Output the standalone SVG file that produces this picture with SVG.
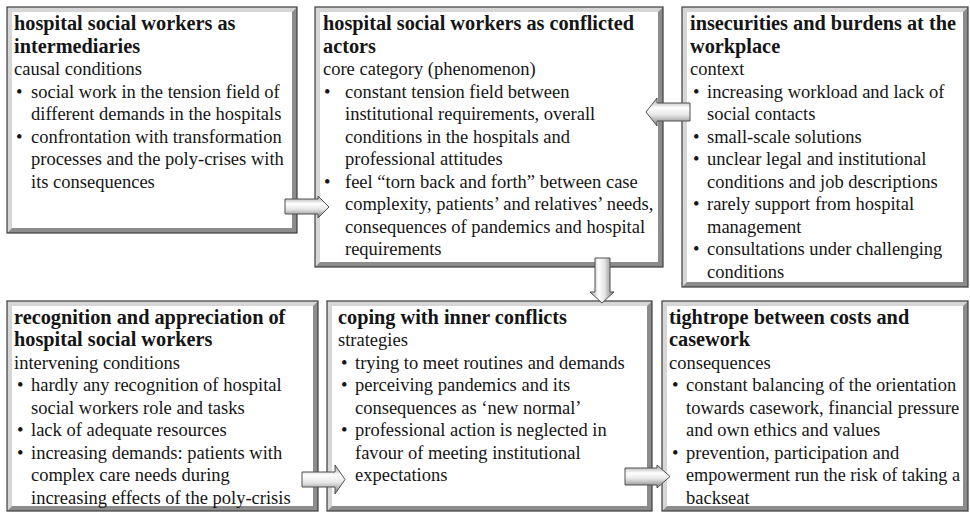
<svg xmlns="http://www.w3.org/2000/svg" width="970" height="513" viewBox="0 0 970 513">
<defs>
<style>
.bg{fill:#ffffff}
.hi{fill:#d6d6d6}
.sh{fill:#8c8c8c}
.ol{fill:none;stroke:#3c3c3c;stroke-width:1.2}
text{font-family:"Liberation Serif","Times New Roman",serif;fill:#151515;font-size:18.5px}
.t{font-weight:bold;font-size:20.3px}
.arr{stroke:#505050;stroke-width:1;stroke-linejoin:miter}
.ah{fill:url(#gh)}
.av{fill:url(#gv)}
</style>
<linearGradient id="gh" x1="0" y1="0" x2="0" y2="1">
<stop offset="0" stop-color="#9a9a9a"/>
<stop offset="0.35" stop-color="#ffffff"/>
<stop offset="0.6" stop-color="#e6e6e6"/>
<stop offset="1" stop-color="#7a7a7a"/>
</linearGradient>
<linearGradient id="gv" x1="0" y1="0" x2="1" y2="0">
<stop offset="0" stop-color="#9a9a9a"/>
<stop offset="0.35" stop-color="#ffffff"/>
<stop offset="0.6" stop-color="#e6e6e6"/>
<stop offset="1" stop-color="#7a7a7a"/>
</linearGradient>
</defs>

<g id="box1">
<rect class="bg" x="7" y="7" width="290" height="226"/>
<polygon class="hi" points="7,7 297,7 292,12 12,12 12,228 7,233"/>
<polygon class="sh" points="297,7 297,233 7,233 12,228 292,228 292,12"/>
<rect class="ol" x="7" y="7" width="290" height="226"/>
<text class="t" x="14" y="30">hospital social workers as</text>
<text class="t" x="14" y="52.5">intermediaries</text>
<text x="14" y="75">causal conditions</text>
<text x="16" y="97.5">•</text><text x="31" y="97.5">social work in the tension field of</text>
<text x="31" y="120">different demands in the hospitals</text>
<text x="16" y="142.5">•</text><text x="31" y="142.5">confrontation with transformation</text>
<text x="31" y="165">processes and the poly-crises with</text>
<text x="31" y="187.5">its consequences</text>
</g>

<g id="box2">
<rect class="bg" x="315" y="7" width="348" height="260"/>
<polygon class="hi" points="315,7 663,7 658,12 320,12 320,262 315,267"/>
<polygon class="sh" points="663,7 663,267 315,267 320,262 658,262 658,12"/>
<rect class="ol" x="315" y="7" width="348" height="260"/>
<text class="t" x="323" y="30">hospital social workers as conflicted</text>
<text class="t" x="323" y="52.5">actors</text>
<text x="323" y="75">core category (phenomenon)</text>
<text x="324" y="97.5">•</text><text x="345" y="97.5">constant tension field between</text>
<text x="345" y="120">institutional requirements, overall</text>
<text x="345" y="142.5">conditions in the hospitals and</text>
<text x="345" y="165">professional attitudes</text>
<text x="324" y="187.5">•</text><text x="345" y="187.5">feel “torn back and forth” between case</text>
<text x="345" y="210">complexity, patients’ and relatives’ needs,</text>
<text x="345" y="232.5">consequences of pandemics and hospital</text>
<text x="345" y="255">requirements</text>
</g>

<g id="box3">
<rect class="bg" x="682" y="7" width="286" height="280"/>
<polygon class="hi" points="682,7 968,7 963,12 687,12 687,282 682,287"/>
<polygon class="sh" points="968,7 968,287 682,287 687,282 963,282 963,12"/>
<rect class="ol" x="682" y="7" width="286" height="280"/>
<text class="t" x="690" y="30">insecurities and burdens at the</text>
<text class="t" x="690" y="52.5">workplace</text>
<text x="690" y="75">context</text>
<text x="693" y="97.5">•</text><text x="707" y="97.5">increasing workload and lack of</text>
<text x="707" y="120">social contacts</text>
<text x="693" y="142.5">•</text><text x="707" y="142.5">small-scale solutions</text>
<text x="693" y="165">•</text><text x="707" y="165">unclear legal and institutional</text>
<text x="707" y="187.5">conditions and job descriptions</text>
<text x="693" y="210">•</text><text x="707" y="210">rarely support from hospital</text>
<text x="707" y="232.5">management</text>
<text x="693" y="255">•</text><text x="707" y="255">consultations under challenging</text>
<text x="707" y="277.5">conditions</text>
</g>

<g id="box4">
<rect class="bg" x="7" y="301" width="311" height="210"/>
<polygon class="hi" points="7,301 318,301 313,306 12,306 12,506 7,511"/>
<polygon class="sh" points="318,301 318,511 7,511 12,506 313,506 313,306"/>
<rect class="ol" x="7" y="301" width="311" height="210"/>
<text class="t" x="14" y="323.5">recognition and appreciation of</text>
<text class="t" x="14" y="346">hospital social workers</text>
<text x="14" y="368.5">intervening conditions</text>
<text x="17" y="391">•</text><text x="31" y="391">hardly any recognition of hospital</text>
<text x="31" y="413.5">social workers role and tasks</text>
<text x="17" y="436">•</text><text x="31" y="436">lack of adequate resources</text>
<text x="17" y="458.5">•</text><text x="31" y="458.5">increasing demands: patients with</text>
<text x="31" y="481">complex care needs during</text>
<text x="31" y="503.5">increasing effects of the poly-crisis</text>
</g>

<g id="box5">
<rect class="bg" x="327" y="301" width="325" height="210"/>
<polygon class="hi" points="327,301 652,301 647,306 332,306 332,506 327,511"/>
<polygon class="sh" points="652,301 652,511 327,511 332,506 647,506 647,306"/>
<rect class="ol" x="327" y="301" width="325" height="210"/>
<text class="t" x="338" y="323.5">coping with inner conflicts</text>
<text x="338" y="346">strategies</text>
<text x="341" y="368.5">•</text><text x="355" y="368.5">trying to meet routines and demands</text>
<text x="341" y="391">•</text><text x="355" y="391">perceiving pandemics and its</text>
<text x="355" y="413.5">consequences as ‘new normal’</text>
<text x="341" y="436">•</text><text x="355" y="436">professional action is neglected in</text>
<text x="355" y="458.5">favour of meeting institutional</text>
<text x="355" y="481">expectations</text>
</g>

<g id="box6">
<rect class="bg" x="662" y="301" width="306" height="210"/>
<polygon class="hi" points="662,301 968,301 963,306 667,306 667,506 662,511"/>
<polygon class="sh" points="968,301 968,511 662,511 667,506 963,506 963,306"/>
<rect class="ol" x="662" y="301" width="306" height="210"/>
<text class="t" x="669" y="323.5">tightrope between costs and</text>
<text class="t" x="669" y="346">casework</text>
<text x="669" y="368.5">consequences</text>
<text x="672" y="391">•</text><text x="686" y="391">constant balancing of the orientation</text>
<text x="686" y="413.5">towards casework, financial pressure</text>
<text x="686" y="436">and own ethics and values</text>
<text x="672" y="458.5">•</text><text x="686" y="458.5">prevention, participation and</text>
<text x="686" y="481" textLength="274" lengthAdjust="spacingAndGlyphs">empowerment run the risk of taking a</text>
<text x="686" y="503.5">backseat</text>
</g>

<g id="connectors">
<polygon class="arr ah" points="285,199 318,199 318,196 329,207 318,218 318,214 285,214"/>
<polygon class="arr ah" points="690,103 657,103 657,98 646,112 657,126 657,121 690,121"/>
<polygon class="arr av" points="595,258 610,258 610,292 614,292 602,303 590,292 595,292"/>
<polygon class="arr ah" points="302,472 335,472 335,465 345,479.5 335,494 335,487 302,487"/>
<polygon class="arr ah" points="625,468 657,468 657,465 670,476.5 657,488 657,485 625,485"/>
</g>
</svg>
